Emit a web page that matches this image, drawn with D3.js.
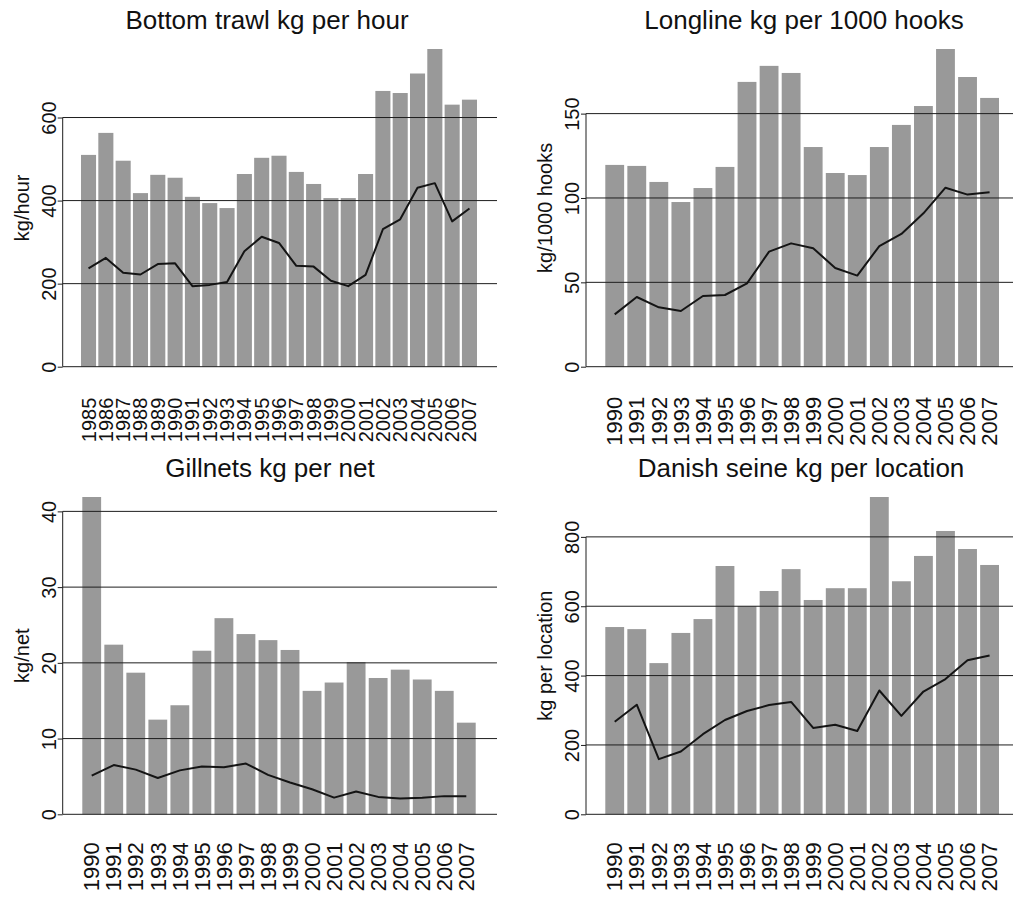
<!DOCTYPE html>
<html>
<head>
<meta charset="utf-8">
<script src="https://cdn.jsdelivr.net/npm/d3@7"></script>
<style>
  html, body { margin: 0; padding: 0; background: #fff; }
  svg { display: block; font-family: "Liberation Sans", Arial, sans-serif; }
</style>
</head>
<body>
<svg id="chart" width="1013" height="899"></svg>
<script>
// ---------------- DATA ----------------
const yearsTrawl = ["1985","1986","1987","1988","1989","1990","1991","1992","1993","1994","1995","1996","1997","1998","1999","2000","2001","2002","2003","2004","2005","2006","2007"];
const yearsOther = ["1990","1991","1992","1993","1994","1995","1996","1997","1998","1999","2000","2001","2002","2003","2004","2005","2006","2007"];

const trawlBars = [510,563,496,418,462,455,409,394,382,464,503,508,469,440,406,406,464,664,659,706,765,631,643];
const trawlLine = [237,262,226,222,247,249,194,197,204,278,313,298,243,241,207,194,221,331,355,431,442,350,381];
const trawlTicks = [0,200,400,600];

const longlineBars = [119.6,119,109.5,97.6,105.9,118.4,168.8,178.3,174.1,130.2,114.8,113.6,130.2,143.3,154.5,188.3,171.7,159.3];
const longlineLine = [31,41.3,35.2,33,41.9,42.5,49.4,68.2,73.1,70.2,58.5,54,71.5,78.7,90.9,106.1,102,103.4];
const longlineTicks = [0,50,100,150];

const gillnetBars = [41.9,22.4,18.7,12.5,14.4,21.6,25.9,23.8,23.0,21.7,16.3,17.4,20.1,18.0,19.1,17.8,16.3,12.1];
const gillnetLine = [5.1,6.5,5.9,4.8,5.8,6.3,6.2,6.7,5.2,4.2,3.3,2.2,3.0,2.3,2.1,2.2,2.4,2.4];
const gillnetTicks = [0,10,20,30,40];

const seineBars = [540,534,436,523,563,716,600,644,707,618,652,652,915,672,745,817,765,719];
const seineLine = [267,316,159,181,231,272,298,315,324,249,258,240,357,284,354,390,444,458];
const seineTicks = [0,200,400,600,800];

const titles = ["Bottom trawl kg per hour","Longline kg per 1000 hooks","Gillnets kg per net","Danish seine kg per location"];
const yLabels = ["kg/hour","kg/1000 hooks","kg/net","kg per location"];

// ---------------- LAYOUT ----------------
const panels = [
  {title: titles[0], ylabel: yLabels[0], years: yearsTrawl, bars: trawlBars, line: trawlLine, ticks: trawlTicks,
   axisX: 62.7, gridRight: 497, barL: 81, barR: 477, pad: 0.13, top: 49, bottom: 366.7,
   titleX: 267, titleY: 29, ylabelX: 29, xFont: 20, xOff: 31},
  {title: titles[1], ylabel: yLabels[1], years: yearsOther, bars: longlineBars, line: longlineLine, ticks: longlineTicks,
   axisX: 586, gridRight: 1013, barL: 605.3, barR: 999, pad: 0.146, top: 49, bottom: 366.7,
   titleX: 804, titleY: 29, ylabelX: 552, xFont: 22, xOff: 30},
  {title: titles[2], ylabel: yLabels[2], years: yearsOther, bars: gillnetBars, line: gillnetLine, ticks: gillnetTicks,
   axisX: 62.7, gridRight: 497, barL: 82.3, barR: 475.7, pad: 0.146, top: 497, bottom: 814.3,
   titleX: 270, titleY: 477, ylabelX: 29, xFont: 22, xOff: 28},
  {title: titles[3], ylabel: yLabels[3], years: yearsOther, bars: seineBars, line: seineLine, ticks: seineTicks,
   axisX: 586, gridRight: 1013, barL: 605.3, barR: 999, pad: 0.146, top: 497, bottom: 814.3,
   titleX: 801, titleY: 477, ylabelX: 552, xFont: 22, xOff: 28}
];

const svg = d3.select("#chart");
svg.append("rect").attr("width", 1013).attr("height", 899).attr("fill", "#fff");

const BAR = "#999999", GRID = "#1e1e1e", LINE = "#141414", TXT = "#111";

panels.forEach(p => {
  const g = svg.append("g");
  const x = d3.scaleBand().domain(p.years).range([p.barL, p.barR]).paddingInner(p.pad).paddingOuter(0);
  const y = d3.scaleLinear().domain([0, d3.max(p.bars)]).range([p.bottom, p.top]);

  // bars
  g.selectAll("rect.bar").data(p.bars).join("rect")
    .attr("class", "bar")
    .attr("x", (d, i) => x(p.years[i]))
    .attr("width", x.bandwidth())
    .attr("y", d => y(d))
    .attr("height", d => y(0) - y(d))
    .attr("fill", BAR);

  // gridlines
  g.selectAll("line.grid").data(p.ticks).join("line")
    .attr("class", "grid")
    .attr("x1", p.axisX).attr("x2", p.gridRight)
    .attr("y1", d => y(d)).attr("y2", d => y(d))
    .attr("stroke", GRID).attr("stroke-width", 1);

  // y axis
  const yAxis = g.append("g").attr("transform", `translate(${p.axisX},0)`)
    .call(d3.axisLeft(y).tickValues(p.ticks).tickSize(5).tickFormat(d3.format("d")));
  yAxis.select(".domain").remove();
  yAxis.selectAll(".tick line").attr("stroke", GRID);
  yAxis.selectAll(".tick text")
    .attr("transform", "rotate(-90)")
    .attr("x", 0).attr("y", -7).attr("dy", 0)
    .attr("text-anchor", "middle")
    .attr("font-size", 20)
    .attr("font-family", "Liberation Sans, Arial, sans-serif")
    .attr("fill", TXT);
  g.append("line")
    .attr("x1", p.axisX).attr("x2", p.axisX)
    .attr("y1", y(0)).attr("y2", y(d3.max(p.ticks)))
    .attr("stroke", GRID).attr("stroke-width", 1);

  // x axis labels
  const xAxis = g.append("g").attr("transform", `translate(0,${p.bottom})`)
    .call(d3.axisBottom(x).tickSize(0));
  xAxis.select(".domain").remove();
  xAxis.selectAll(".tick text")
    .attr("transform", "rotate(-90)")
    .attr("x", -p.xOff).attr("y", 0).attr("dy", "0.35em")
    .attr("text-anchor", "end")
    .attr("font-size", p.xFont)
    .attr("font-family", "Liberation Sans, Arial, sans-serif")
    .attr("fill", TXT);

  // line
  const line = d3.line()
    .x((d, i) => x(p.years[i]) + x.bandwidth() / 2)
    .y(d => y(d));
  g.append("path").datum(p.line)
    .attr("d", line)
    .attr("fill", "none")
    .attr("stroke", LINE)
    .attr("stroke-width", 2)
    .attr("stroke-linejoin", "round");

  // title
  g.append("text")
    .attr("x", p.titleX).attr("y", p.titleY)
    .attr("text-anchor", "middle")
    .attr("font-size", 26)
    .attr("fill", TXT)
    .text(p.title);

  // y label
  g.append("text")
    .attr("transform", `translate(${p.ylabelX},${(p.top + p.bottom) / 2}) rotate(-90)`)
    .attr("text-anchor", "middle")
    .attr("font-size", 20)
    .attr("fill", TXT)
    .text(p.ylabel);
});
</script>
</body>
</html>
